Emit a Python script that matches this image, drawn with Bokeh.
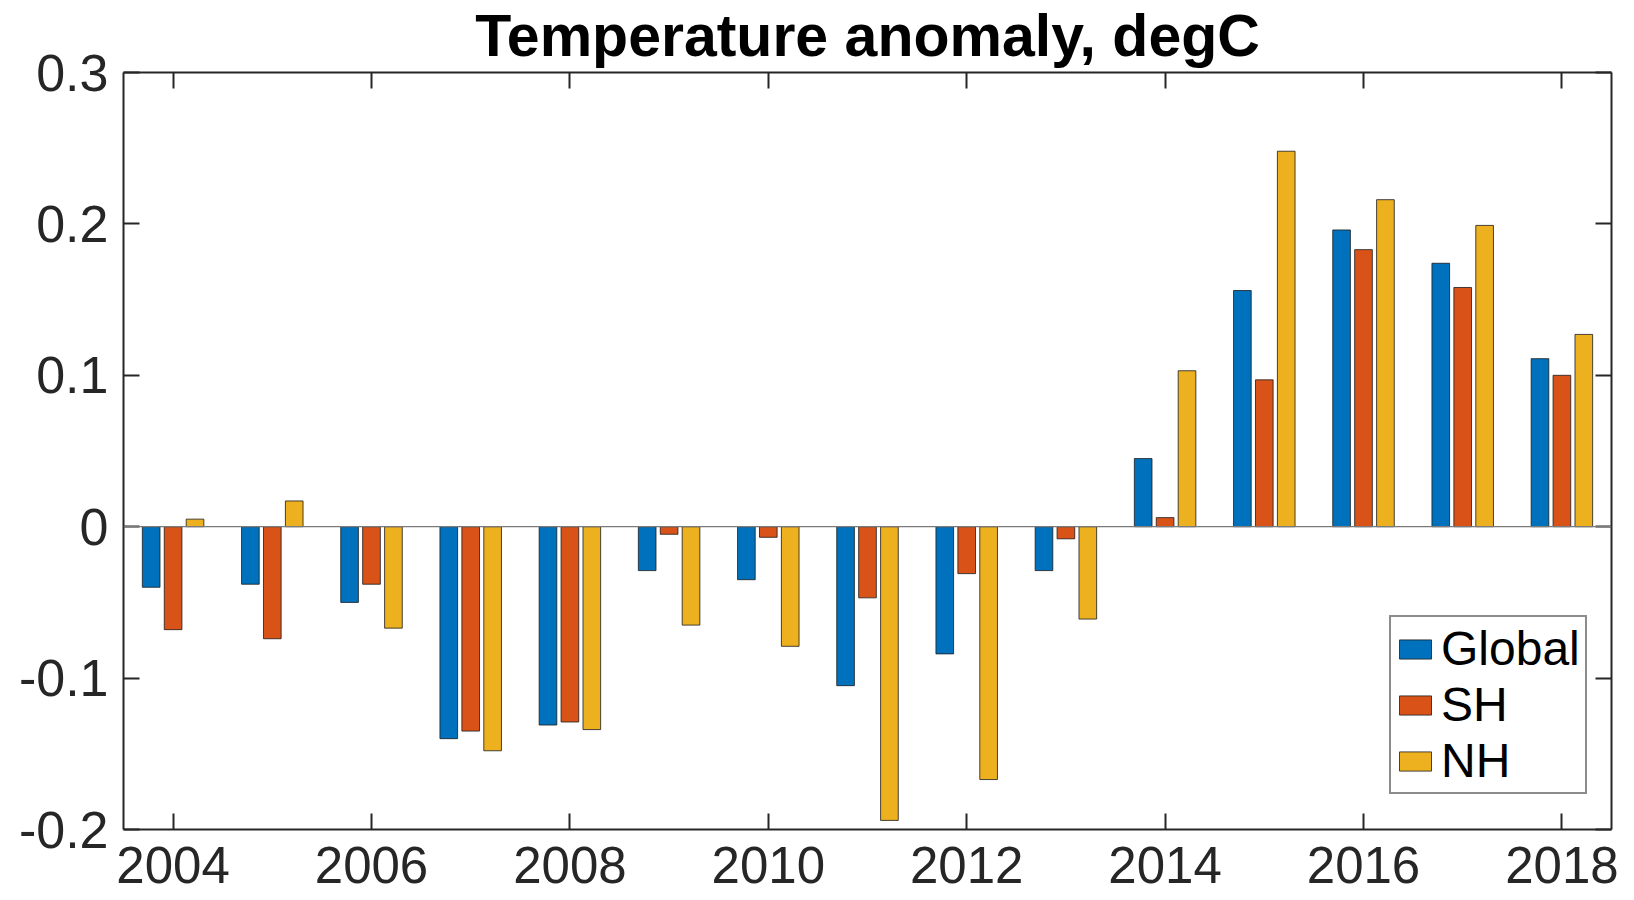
from bokeh.plotting import figure
from bokeh.models import (LinearAxis, FixedTicker, Span, Legend, LegendItem, Range1d,
                          ColumnDataSource, CustomLabelingPolicy)
from bokeh.transform import dodge
from bokeh.embed import file_html
from bokeh.resources import INLINE

# ---- data ----
years = [2004, 2005, 2006, 2007, 2008, 2009, 2010, 2011, 2012, 2013, 2014, 2015, 2016, 2017, 2018]
global_anom = [-0.040, -0.038, -0.050, -0.140, -0.131, -0.029, -0.035, -0.105, -0.084, -0.029,
               0.045, 0.156, 0.196, 0.174, 0.111]
sh_anom = [-0.068, -0.074, -0.038, -0.135, -0.129, -0.005, -0.007, -0.047, -0.031, -0.008,
           0.006, 0.097, 0.183, 0.158, 0.100]
nh_anom = [0.005, 0.017, -0.067, -0.148, -0.134, -0.065, -0.079, -0.194, -0.167, -0.061,
           0.103, 0.248, 0.216, 0.199, 0.127]
series_names = ["Global", "SH", "NH"]
series_colors = ["#0072BD", "#D95319", "#EDB120"]
x_ticks = [2004, 2006, 2008, 2010, 2012, 2014, 2016, 2018]
y_ticks = [-0.2, -0.1, 0, 0.1, 0.2, 0.3]
y_tick_labels = ["-0.2", "-0.1", "0", "0.1", "0.2", "0.3"]
title_text = "Temperature anomaly, degC"

FONT = "Liberation Sans"
AX = "#262626"

source = ColumnDataSource(dict(year=years, g=global_anom, s=sh_anom, n=nh_anom))

p = figure(width=1634, height=900,
           x_range=Range1d(2003.5, 2018.5), y_range=Range1d(-0.2, 0.3),
           output_backend="svg", toolbar_location=None,
           x_axis_location=None, y_axis_location=None,
           min_border_left=123, min_border_right=23, min_border_top=72, min_border_bottom=71,
           background_fill_color="white", border_fill_color="white", outline_line_color=None)
p.grid.visible = False

p.title.text = title_text
p.title.align = "center"
p.title.text_font = FONT
p.title.text_font_size = "59px"
p.title.text_font_style = "bold"
p.title.text_color = "black"
p.title.standoff = 0

hide_all = CustomLabelingPolicy(code="""
for (const i of indices) { indices.unset(i) }
return indices
""")


def style_axis(ax, labels=True, standoff=14, size="52px"):
    ax.axis_line_color = AX
    ax.axis_line_width = 2
    ax.major_tick_line_color = AX
    ax.major_tick_line_width = 2
    ax.major_tick_in = 16
    ax.major_tick_out = 0
    ax.minor_tick_line_color = None
    ax.major_label_text_font = FONT
    ax.major_label_text_color = AX
    if labels:
        ax.major_label_text_font_size = size
        ax.major_label_standoff = standoff
    else:
        ax.major_label_text_font_size = "1px"
        ax.major_label_standoff = 0
        ax.major_label_policy = hide_all


xb = LinearAxis(ticker=FixedTicker(ticks=x_ticks))
style_axis(xb, True, 17, "51px")
xt = LinearAxis(ticker=FixedTicker(ticks=x_ticks))
style_axis(xt, False)
yl = LinearAxis(ticker=FixedTicker(ticks=y_ticks),
                major_label_overrides={t: l for t, l in zip(y_ticks, y_tick_labels)})
style_axis(yl, True, 15, "52px")
yr = LinearAxis(ticker=FixedTicker(ticks=y_ticks))
style_axis(yr, False)
p.add_layout(xb, "below")
p.add_layout(xt, "above")
p.add_layout(yl, "left")
p.add_layout(yr, "right")

p.add_layout(Span(location=0, dimension="width", line_color="#7a7a7a", line_width=1.2))

bar_w = 0.178
offsets = [-0.221, 0.0, 0.221]
fields = ["g", "s", "n"]
renderers = []
for f, off, c in zip(fields, offsets, series_colors):
    r = p.vbar(x=dodge("year", off), top=f, bottom=0, width=bar_w, source=source,
               fill_color=c, line_color="#1a1a1a", line_width=0.8)
    renderers.append(r)

legend = Legend(items=[LegendItem(label=n, renderers=[r]) for n, r in zip(series_names, renderers)],
                location=(1266, 35), orientation="vertical",
                label_text_font=FONT, label_text_font_size="48px", label_text_color="black",
                glyph_width=40, glyph_height=24, label_standoff=6, label_width=140,
                spacing=1, padding=4, margin=0,
                border_line_color="#1a1a1a", border_line_width=2,
                background_fill_color="white", background_fill_alpha=1.0)
p.add_layout(legend)

open("out.html", "w").write(file_html(p, INLINE))
